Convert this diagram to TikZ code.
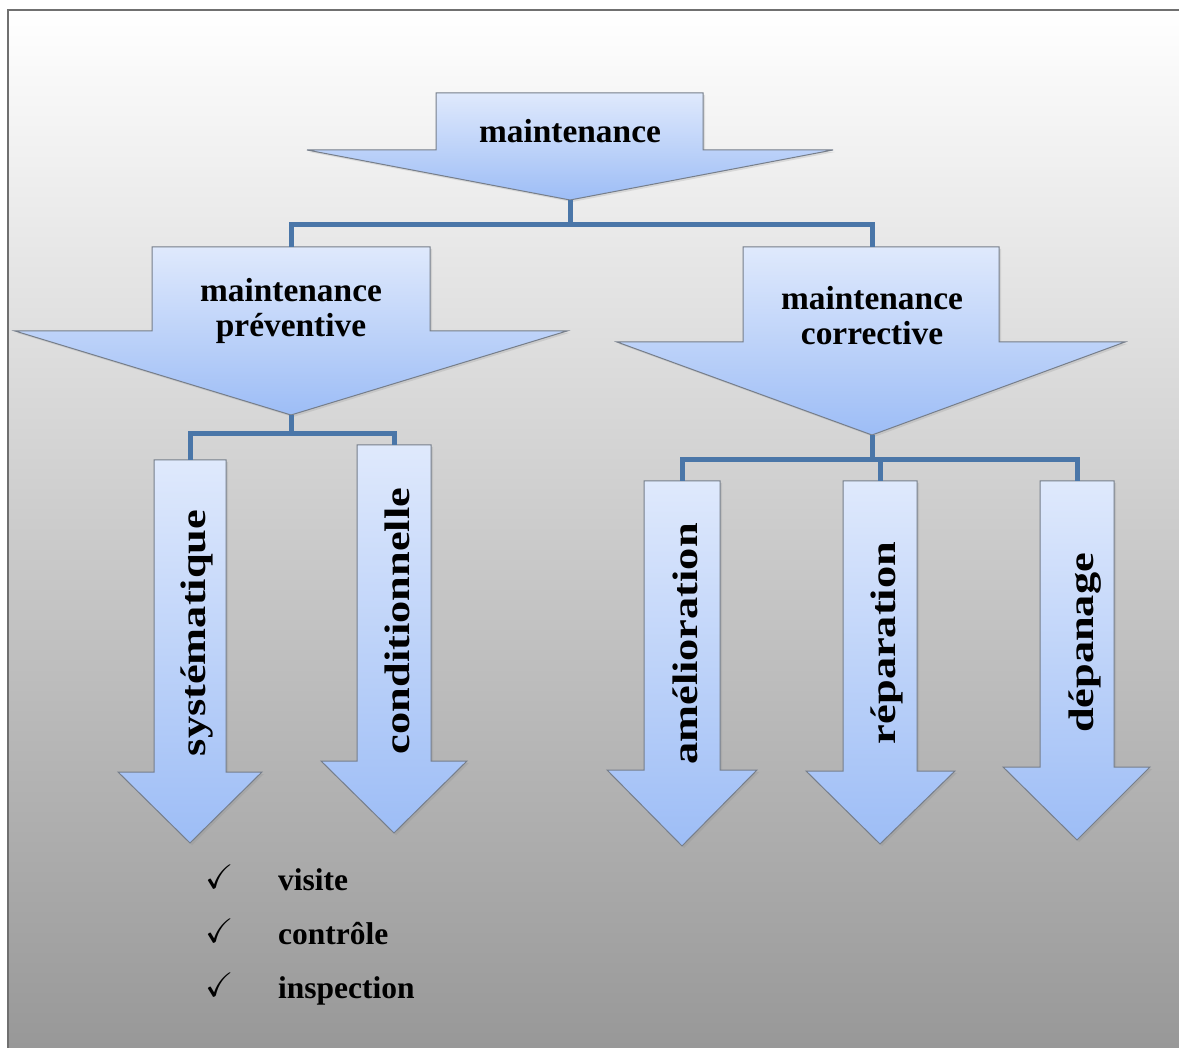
\documentclass[tikz,border=0pt]{standalone}
\usepackage{amssymb}
\usepackage{fontspec}
\setmainfont{Liberation Serif}
\usetikzlibrary{shadows}

\definecolor{lien}{RGB}{74,118,168}
\definecolor{bleuhaut}{RGB}{223,233,252}
\definecolor{bleubas}{RGB}{157,189,246}
\definecolor{bord}{RGB}{118,126,138}
\definecolor{cadre}{RGB}{112,112,112}
\definecolor{fondbas}{RGB}{152,152,152}

\tikzset{
  fleche/.style={draw=bord, line width=1, top color=bleuhaut, bottom color=bleubas,
    drop shadow={shadow xshift=2pt, shadow yshift=-2pt, opacity=0.2}},
  lien/.style={draw=lien, line width=5},
  titre/.style={font=\fontsize{33.4}{35}\selectfont\bfseries, anchor=base, inner sep=0},
  vertical/.style={font=\fontsize{35.5}{40}\selectfont\bfseries, rotate=90, anchor=base, inner sep=0},
  item/.style={font=\fontsize{31.5}{36}\selectfont\bfseries, anchor=base west, inner sep=0},
  coche/.style={font=\fontsize{34}{38}\selectfont, anchor=base, inner sep=0}
}

\begin{document}
\begin{tikzpicture}[x=1pt,y=-1pt]
\useasboundingbox (0,0) rectangle (1179,1048);

% fond
\shade[top color=white, bottom color=fondbas] (7,10) rectangle (1179,1048);
\draw[cadre, line width=2.5] (8,1048) -- (8,10) -- (1179,10);

% fleches
\path[fleche] (436,93) -- (703,93) -- (703,150) -- (833,150) -- (570,200) -- (307,150) -- (436,150) -- cycle;
\coordinate (maint-pointe) at (570,200);
\node[titre] (maint) at (570,143) {maintenance};

\path[fleche] (152,247) -- (430,247) -- (430,331) -- (567,331) -- (291,415) -- (15,331) -- (152,331) -- cycle;
\coordinate (prev-haut) at (291,247);
\coordinate (prev-pointe) at (291,415);
\node[titre] (prev1) at (291,302) {maintenance};
\node[titre] (prev2) at (291,337) {préventive};

\path[fleche] (743,247) -- (999,247) -- (999,342) -- (1125,342) -- (872,435) -- (617,342) -- (743,342) -- cycle;
\coordinate (corr-haut) at (872,247);
\coordinate (corr-pointe) at (872,435);
\node[titre] (corr1) at (872,310) {maintenance};
\node[titre] (corr2) at (872,345) {corrective};

\path[fleche] (154,460) -- (226,460) -- (226,772) -- (262,772) -- (190,843) -- (118,772) -- (154,772) -- cycle;
\coordinate (sys-haut) at (190,460);
\node[vertical] (sys) at (205.5,633) {\scalebox{1.25}[1]{systématique}};

\path[fleche] (357,445) -- (431,445) -- (431,761) -- (467,761) -- (394,833) -- (321,761) -- (357,761) -- cycle;
\coordinate (cond-haut) at (394,445);
\node[vertical] (cond) at (409.5,621) {\scalebox{1.25}[1]{conditionnelle}};

\path[fleche] (644,481) -- (720,481) -- (720,770) -- (757,770) -- (682,846) -- (607,770) -- (644,770) -- cycle;
\coordinate (amel-haut) at (682,481);
\node[vertical] (amel) at (697.5,644) {\scalebox{1.25}[1]{amélioration}};

\path[fleche] (843,481) -- (917,481) -- (917,771) -- (955,771) -- (880,844) -- (806,771) -- (843,771) -- cycle;
\coordinate (rep-haut) at (880,481);
\node[vertical] (rep) at (895.5,643) {\scalebox{1.25}[1]{réparation}};

\path[fleche] (1040,481) -- (1114,481) -- (1114,767) -- (1150,767) -- (1077,840) -- (1003,767) -- (1040,767) -- cycle;
\coordinate (dep-haut) at (1077,481);
\node[vertical] (dep) at (1093,643) {\scalebox{1.25}[1]{dépanage}};

% liaisons
\coordinate (j1) at (570,225);
\coordinate (j2) at (291,434);
\coordinate (j3) at (872,460);
\draw[lien] (maint-pointe) -- (j1) -| (prev-haut);
\draw[lien] (j1) -| (corr-haut);
\draw[lien] (prev-pointe) -- (j2) -| (sys-haut);
\draw[lien] (j2) -| (cond-haut);
\draw[lien] (corr-pointe) -- (j3) -| (amel-haut);
\draw[lien] (j3) -| (rep-haut);
\draw[lien] (j3) -| (dep-haut);

% liste
\node[coche] (c1) at (220,888) {$\checkmark$};
\node[coche] (c2) at (220,942) {$\checkmark$};
\node[coche] (c3) at (220,996) {$\checkmark$};
\node[item] (visite) at (278,890) {visite};
\node[item] (controle) at (278,944) {contrôle};
\node[item] (inspection) at (278,998) {inspection};
\end{tikzpicture}
\end{document}
